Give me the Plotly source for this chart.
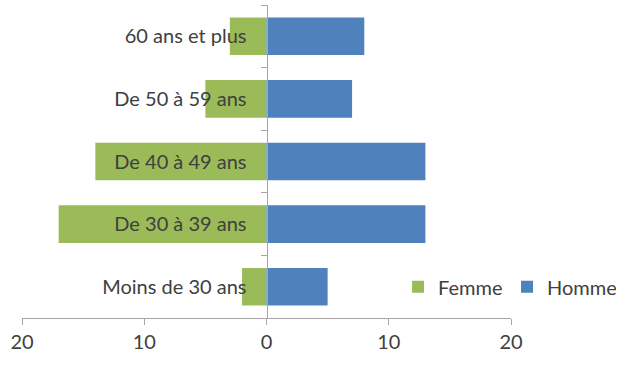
import plotly.graph_objects as go

# Age groups, bottom to top
categories = ["Moins de 30 ans", "De 30 à 39 ans", "De 40 à 49 ans",
              "De 50 à 59 ans", "60 ans et plus"]
femme = [2, 17, 14, 5, 3]
homme = [5, 13, 13, 7, 8]

tick_vals = [-20, -10, 0, 10, 20]
tick_text = ["20", "10", "0", "10", "20"]

GREEN = "#9BBB59"
BLUE = "#4F81BD"
AXIS = "#A6A6A6"
TEXT = "#404040"
FONT = "Lato"
SIZE = 20

fig = go.Figure()
fig.add_trace(go.Bar(
    y=categories, x=[-v for v in femme], name="Femme", orientation="h",
    marker=dict(color=GREEN, line=dict(width=0)),
    customdata=femme, hovertemplate="%{y}: %{customdata}<extra>Femme</extra>",
))
fig.add_trace(go.Bar(
    y=categories, x=homme, name="Homme", orientation="h",
    marker=dict(color=BLUE, line=dict(width=0)),
))

fig.update_layout(
    width=620, height=365,
    margin=dict(l=22, r=109, t=5, b=47, autoexpand=False),
    barmode="relative", bargap=0.4,
    plot_bgcolor="white", paper_bgcolor="white",
    font=dict(family=FONT, size=SIZE, color=TEXT),
    showlegend=True,
    legend=dict(orientation="h", x=0.769, y=0.1, xanchor="left", yanchor="middle",
                xref="paper", yref="paper",
                font=dict(size=SIZE, color=TEXT), itemwidth=30,
                entrywidth=64, entrywidthmode="pixels",
                traceorder="normal", bgcolor="rgba(0,0,0,0)"),
    xaxis=dict(range=[-20, 20], tickvals=tick_vals, ticktext=tick_text,
               showgrid=False, zeroline=False, showline=True, linecolor=AXIS,
               linewidth=1, ticks="outside", ticklen=6, tickcolor=AXIS,
               tickfont=dict(size=SIZE, color=TEXT)),
    yaxis=dict(type="category", anchor="free", position=0.5, side="left",
               showgrid=False, zeroline=False, showline=True, linecolor=AXIS,
               linewidth=1, ticks="outside", ticklen=6, tickcolor=AXIS,
               tickson="boundaries", ticklabelstandoff=16,
               tickfont=dict(size=SIZE, color=TEXT), layer="above traces"),
)

fig.write_html("out.html")
